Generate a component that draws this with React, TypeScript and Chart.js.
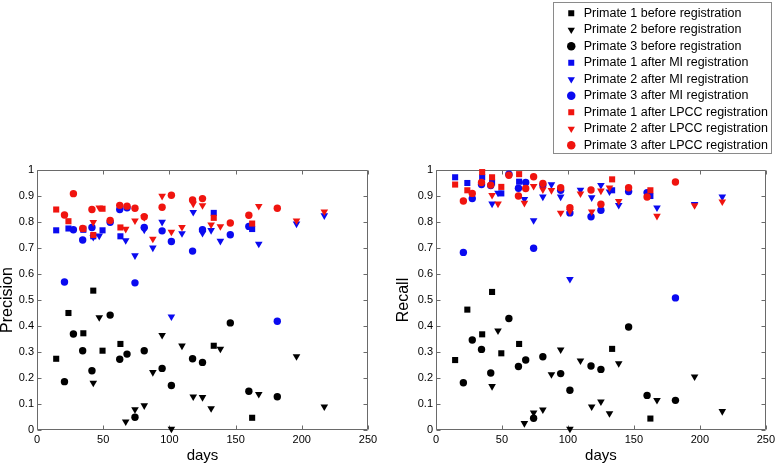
import React, { useEffect, useRef } from "react";
import { Chart, registerables } from "chart.js";

Chart.register(...registerables);

// ---------- data ----------
const P1_DAYS = [14.5, 23.75, 35, 42.5, 49.5, 63, 133.5, 162.5];
const P2_DAYS = [42.5, 47, 67, 74, 81, 87.5, 94.5, 101.5, 109.5, 118, 125, 131.5, 138.5, 167.5, 196, 217];
const P3_DAYS = [20.75, 27.5, 34.5, 41.5, 55.25, 62.5, 68, 74, 81, 94.5, 101.5, 117.5, 125, 146, 160, 181.5];

// Precision
const PREC_P1_BEFORE = [0.274, 0.45, 0.372, 0.536, 0.305, 0.331, 0.324, 0.047];
const PREC_P2_BEFORE = [0.181, 0.433, 0.032, 0.079, 0.094, 0.222, 0.365, 0.004, 0.324, 0.128, 0.126, 0.083, 0.312, 0.138, 0.283, 0.09];
const PREC_P3_BEFORE = [0.186, 0.369, 0.305, 0.228, 0.442, 0.272, 0.292, 0.049, 0.305, 0.237, 0.171, 0.274, 0.26, 0.412, 0.149, 0.128];
const PREC_P1_MI = [0.768, 0.775, 0.77, 0.745, 0.768, 0.745, 0.835, 0.773];
const PREC_P2_MI = [0.742, 0.747, 0.729, 0.671, 0.77, 0.701, 0.8, 0.436, 0.756, 0.838, 0.757, 0.768, 0.727, 0.716, 0.793, 0.825];
const PREC_P3_MI = [0.569, 0.77, 0.731, 0.779, 0.799, 0.848, 0.855, 0.566, 0.779, 0.766, 0.725, 0.688, 0.77, 0.751, 0.783, 0.418];
const PREC_P1_LPCC = [0.848, 0.803, 0.774, 0.75, 0.851, 0.779, 0.816, 0.794];
const PREC_P2_LPCC = [0.799, 0.855, 0.773, 0.805, 0.818, 0.735, 0.9, 0.762, 0.78, 0.87, 0.864, 0.79, 0.783, 0.861, 0.805, 0.84];
const PREC_P3_LPCC = [0.827, 0.909, 0.775, 0.848, 0.806, 0.864, 0.861, 0.853, 0.82, 0.857, 0.903, 0.885, 0.89, 0.796, 0.826, 0.853];

// Recall
const REC_P1_BEFORE = [0.269, 0.463, 0.368, 0.531, 0.295, 0.331, 0.312, 0.044];
const REC_P2_BEFORE = [0.168, 0.382, 0.026, 0.067, 0.078, 0.214, 0.309, 0.004, 0.267, 0.09, 0.109, 0.064, 0.256, 0.115, 0.205, 0.072];
const REC_P3_BEFORE = [0.182, 0.346, 0.31, 0.219, 0.429, 0.244, 0.269, 0.045, 0.282, 0.217, 0.153, 0.246, 0.233, 0.396, 0.133, 0.114];
const REC_P1_MI = [0.972, 0.95, 0.972, 0.952, 0.91, 0.955, 0.922, 0.9];
const REC_P2_MI = [0.87, 0.912, 0.888, 0.806, 0.897, 0.944, 0.897, 0.58, 0.923, 0.894, 0.942, 0.917, 0.865, 0.855, 0.868, 0.897];
const REC_P3_MI = [0.683, 0.89, 0.944, 0.94, 0.984, 0.93, 0.952, 0.699, 0.942, 0.922, 0.835, 0.82, 0.845, 0.917, 0.913, 0.508];
const REC_P1_LPCC = [0.944, 0.922, 0.992, 0.972, 0.935, 0.984, 0.964, 0.922];
const REC_P2_LPCC = [0.903, 0.87, 0.873, 0.938, 0.925, 0.922, 0.835, 0.842, 0.909, 0.84, 0.92, 0.932, 0.88, 0.823, 0.864, 0.878];
const REC_P3_LPCC = [0.881, 0.91, 0.952, 0.942, 0.98, 0.9, 0.929, 0.974, 0.948, 0.932, 0.855, 0.923, 0.868, 0.932, 0.896, 0.954];

const SERIES_LABELS = [
  "Primate 1 before registration",
  "Primate 2 before registration",
  "Primate 3 before registration",
  "Primate 1 after MI registration",
  "Primate 2 after MI registration",
  "Primate 3 after MI registration",
  "Primate 1 after LPCC registration",
  "Primate 2 after LPCC registration",
  "Primate 3 after LPCC registration",
];

const X_TICK_MIN = 0;
const X_TICK_MAX = 250;
const X_TICK_STEP = 50;
const Y_TICK_MIN = 0;
const Y_TICK_MAX = 1;
const Y_TICK_STEP = 0.1;

// ---------- styles ----------
const FONT = "'Liberation Sans', Arial, Helvetica, sans-serif";
const AXIS_COLOR = "#6a6a6a";
const COND_COLORS = ["#000000", "#0a0af0", "#f0140f"];
const PRIMATE_STYLES = [
  { pointStyle: "rect", radius: 4.3, rotation: 0 },
  { pointStyle: "triangle", radius: 4.4, rotation: 180 },
  { pointStyle: "circle", radius: 3.7, rotation: 0 },
];
const DAYS = [P1_DAYS, P2_DAYS, P3_DAYS];

const PREC_SERIES = [
  PREC_P1_BEFORE, PREC_P2_BEFORE, PREC_P3_BEFORE,
  PREC_P1_MI, PREC_P2_MI, PREC_P3_MI,
  PREC_P1_LPCC, PREC_P2_LPCC, PREC_P3_LPCC,
];
const REC_SERIES = [
  REC_P1_BEFORE, REC_P2_BEFORE, REC_P3_BEFORE,
  REC_P1_MI, REC_P2_MI, REC_P3_MI,
  REC_P1_LPCC, REC_P2_LPCC, REC_P3_LPCC,
];

function buildDatasets(series: number[][] | null) {
  return SERIES_LABELS.map((label, i) => {
    const primate = i % 3;
    const cond = Math.floor(i / 3);
    const st = PRIMATE_STYLES[primate];
    const color = COND_COLORS[cond];
    const days = DAYS[primate];
    return {
      label,
      data: series ? days.map((d, k) => ({ x: d, y: series[i][k] })) : [],
      pointStyle: st.pointStyle,
      pointRadius: st.radius,
      pointRotation: st.rotation,
      pointBackgroundColor: color,
      pointBorderColor: color,
      pointBorderWidth: 0,
      backgroundColor: color,
      borderColor: color,
      borderWidth: 0,
      showLine: false,
      clip: false as any,
      order: series ? 9 - i : 0,
    };
  });
}

const TICK_LEN = 4;
const matlabBox = {
  id: "matlabBox",
  beforeDatasetsDraw(chart: any) {
    const { ctx, chartArea: a, scales } = chart;
    const L = Math.round(a.left) + 0.5;
    const R = Math.round(a.right) - 0.5;
    const T = Math.round(a.top) + 0.5;
    const B = Math.round(a.bottom) - 0.5;
    ctx.save();
    ctx.strokeStyle = AXIS_COLOR;
    ctx.lineWidth = 1;
    ctx.beginPath();
    ctx.rect(L, T, R - L, B - T);
    scales.x.ticks.forEach((t: any) => {
      const x = Math.round(scales.x.getPixelForValue(t.value)) + 0.5;
      ctx.moveTo(x, B);
      ctx.lineTo(x, B - TICK_LEN);
      ctx.moveTo(x, T);
      ctx.lineTo(x, T + TICK_LEN);
    });
    scales.y.ticks.forEach((t: any) => {
      const y = Math.round(scales.y.getPixelForValue(t.value)) + 0.5;
      ctx.moveTo(L, y);
      ctx.lineTo(L + TICK_LEN, y);
      ctx.moveTo(R, y);
      ctx.lineTo(R - TICK_LEN, y);
    });
    ctx.stroke();
    ctx.restore();
  },
};

const fmtY = (v: number | string) => String(Number(Number(v).toFixed(1)));

function plotOptions(yTitle: string, yAxisWidth: number, padRight: number) {
  return {
    animation: false as const,
    responsive: false,
    devicePixelRatio: 1,
    layout: { padding: { left: 0, right: padRight, top: 170, bottom: 0 } },
    plugins: { legend: { display: false }, tooltip: { enabled: false } },
    scales: {
      x: {
        type: "linear" as const,
        min: X_TICK_MIN,
        max: X_TICK_MAX,
        grid: { display: false, drawTicks: false },
        border: { display: false },
        ticks: { stepSize: X_TICK_STEP, padding: 3, color: "#000", font: { family: FONT, size: 11 } },
        title: {
          display: true,
          text: "days",
          color: "#000",
          font: { family: FONT, size: 15, lineHeight: 1 },
          padding: { top: 0, bottom: 3 },
        },
        afterFit: (s: any) => {
          s.height = 36;
        },
      },
      y: {
        type: "linear" as const,
        min: Y_TICK_MIN,
        max: Y_TICK_MAX,
        grid: { display: false, drawTicks: false },
        border: { display: false },
        ticks: {
          stepSize: Y_TICK_STEP,
          padding: 3,
          color: "#000",
          font: { family: FONT, size: 11 },
          callback: (v: number | string) => fmtY(v),
        },
        title: {
          display: true,
          text: yTitle,
          color: "#000",
          font: { family: FONT, size: 16, lineHeight: 1 },
          padding: { top: 0, bottom: 0 },
        },
        afterFit: (s: any) => {
          s.width = yAxisWidth;
        },
      },
    },
  };
}

function Plot(props: { series: number[][]; title: string; left: number; width: number; yAxisWidth: number; padRight: number }) {
  const ref = useRef<HTMLCanvasElement | null>(null);
  useEffect(() => {
    if (!ref.current) return;
    const chart = new Chart(ref.current, {
      type: "scatter",
      data: { datasets: buildDatasets(props.series) as any },
      options: plotOptions(props.title, props.yAxisWidth, props.padRight) as any,
      plugins: [matlabBox],
    });
    return () => chart.destroy();
  }, []);
  return (
    <canvas
      ref={ref}
      width={props.width}
      height={466}
      style={{ position: "absolute", left: props.left, top: 0, width: props.width, height: 466 }}
    />
  );
}

function LegendBox() {
  const ref = useRef<HTMLCanvasElement | null>(null);
  useEffect(() => {
    if (!ref.current) return;
    const chart = new Chart(ref.current, {
      type: "scatter",
      data: { datasets: buildDatasets(null) as any },
      options: {
        animation: false,
        responsive: false,
        devicePixelRatio: 1,
        layout: { padding: { left: 7, right: 0, top: 0, bottom: 0 } },
        scales: { x: { display: false }, y: { display: false } },
        plugins: {
          tooltip: { enabled: false },
          legend: {
            display: true,
            position: "chartArea",
            align: "start",
            labels: {
              usePointStyle: true,
              boxHeight: 6,
              padding: 4,
              color: "#000",
              font: { family: FONT, size: 12.5 },
            },
          },
        },
      } as any,
    });
    return () => chart.destroy();
  }, []);
  return (
    <>
      <div style={{ position: "absolute", left: 553, top: 2, width: 219, height: 152, background: "#fff" }} />
      <canvas
        ref={ref}
        width={217}
        height={156}
        style={{ position: "absolute", left: 554, top: 3, display: "block", width: 217, height: 156 }}
      />
      <div
        style={{
          position: "absolute",
          left: 553,
          top: 2,
          width: 219,
          height: 152,
          boxSizing: "border-box",
          border: "1px solid #8a8a8a",
          pointerEvents: "none",
        }}
      />
    </>
  );
}

export default function App() {
  return (
    <div style={{ position: "absolute", left: 0, top: 0, width: 778, height: 466, background: "#fff", overflow: "hidden" }}>
      <Plot series={PREC_SERIES} title="Precision" left={0} width={389} yAxisWidth={37} padRight={21} />
      <Plot series={REC_SERIES} title="Recall" left={396} width={382} yAxisWidth={40} padRight={11} />
      <LegendBox />
    </div>
  );
}
